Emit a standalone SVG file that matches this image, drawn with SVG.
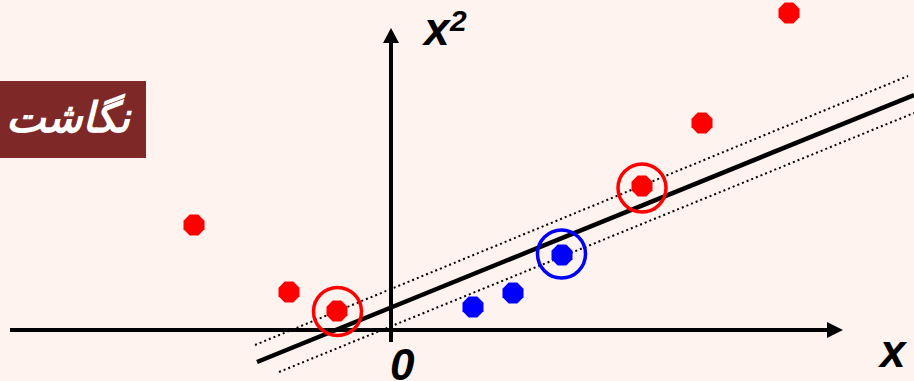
<svg xmlns="http://www.w3.org/2000/svg" width="914" height="381" viewBox="0 0 914 381">
<defs>
<style>
.axis{stroke:#000;stroke-width:4;fill:none}
.sep{stroke:#000;stroke-width:4.5;fill:none}
.margin{stroke:#000;stroke-width:2;stroke-dasharray:2 3;fill:none}
.red{fill:#FF0000}
.blue{fill:#0000FF}
.ringR{fill:none;stroke:#FF0000;stroke-width:3.5}
.ringB{fill:none;stroke:#0000FF;stroke-width:3.5}
.lbl{font-family:"Liberation Sans",Arial,sans-serif;font-weight:bold;font-style:italic;fill:#000}
</style>
<polygon id="oct" points="4.3,-10.5 10.5,-4.3 10.5,4.3 4.3,10.5 -4.3,10.5 -10.5,4.3 -10.5,-4.3 -4.3,-10.5"/>
</defs>
<rect width="914" height="381" fill="#FEF3EE"/>
<g id="logo">
<rect x="0" y="81" width="146" height="77" fill="#7F2828"/>
<text x="68" y="132" text-anchor="middle" font-family="'DejaVu Sans',sans-serif" font-weight="bold" font-style="italic" font-size="42" fill="#FFFFFF">نگاشت</text>
</g>
<g id="connectors">
<line class="axis" x1="10" y1="330" x2="828" y2="330"/>
<polygon points="827,322 843,330 827,338" fill="#000"/>
<line class="axis" x1="391" y1="342" x2="391" y2="42"/>
<polygon points="383,43 391,28 399,43" fill="#000"/>
<line class="sep" x1="257" y1="362" x2="914" y2="95"/>
<line class="margin" x1="255" y1="345" x2="908" y2="76"/>
<line class="margin" x1="279" y1="372" x2="914" y2="113"/>
</g>
<g id="labels">
<text class="lbl" x="424" y="45" font-size="46">x</text>
<text class="lbl" x="450" y="31" font-size="30">2</text>
<text class="lbl" x="880" y="367" font-size="46">x</text>
<text class="lbl" x="390" y="380" font-size="44">0</text>
</g>
<g id="red-points">
<use href="#oct" class="red" x="789" y="13"/>
<use href="#oct" class="red" x="702" y="123"/>
<use href="#oct" class="red" x="194" y="225"/>
<use href="#oct" class="red" x="289" y="292"/>
<use href="#oct" class="red" x="337" y="311"/>
<use href="#oct" class="red" x="642" y="186"/>
</g>
<g id="blue-points">
<use href="#oct" class="blue" x="473" y="307"/>
<use href="#oct" class="blue" x="513" y="293"/>
<use href="#oct" class="blue" x="562" y="255"/>
</g>
<g id="support-rings">
<circle class="ringR" cx="337.5" cy="311.5" r="24"/>
<circle class="ringR" cx="642" cy="188" r="24"/>
<circle class="ringB" cx="561.5" cy="254" r="24"/>
</g>
</svg>
